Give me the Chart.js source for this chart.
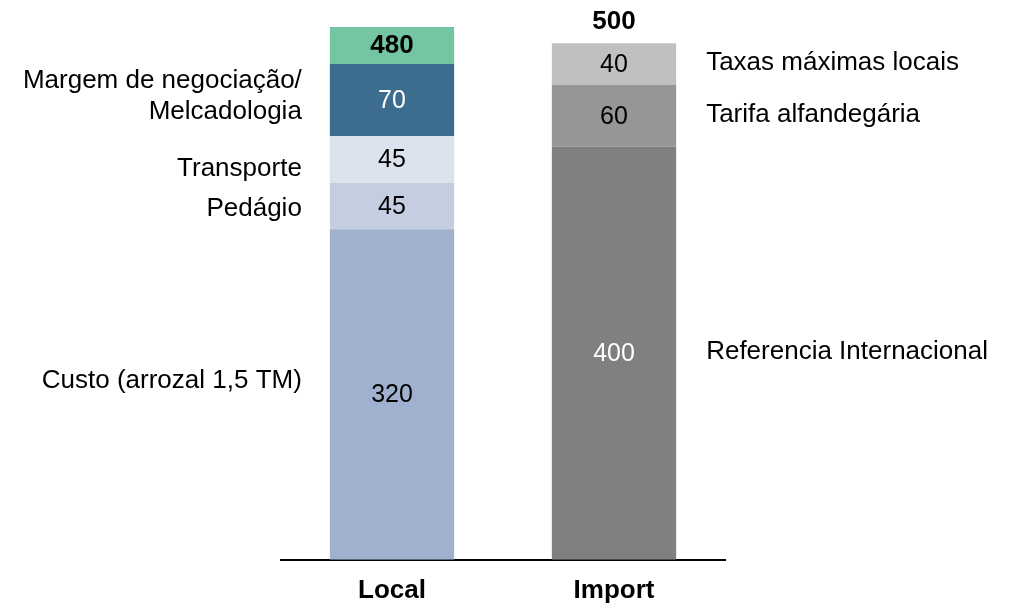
<!DOCTYPE html>
<html>
<head>
<meta charset="utf-8">
<script src="https://cdn.jsdelivr.net/npm/chart.js@4/dist/chart.umd.min.js"></script>
<style>
  html, body { margin: 0; padding: 0; background: #ffffff; }
  #wrap { width: 1012px; height: 606px; }
</style>
</head>
<body>
<div id="wrap"><canvas id="c" width="1012" height="606"></canvas></div>
<script>
// Price build-up of rice: local production vs. import
const categories = ['Local', 'Import'];

// Stack layers, bottom to top
const layer1 = [320, 400];   // Custo / Referencia Internacional
const layer2 = [45, 60];     // Pedágio / Tarifa alfandegária
const layer3 = [45, 40];     // Transporte / Taxas máximas locais
const layer4 = [70, null];   // Margem de negociação

const localLabels = ['Custo (arrozal 1,5 TM)', 'Pedágio', 'Transporte', ['Margem de negociação/', 'Melcadologia']];
const importLabels = ['Referencia Internacional', 'Tarifa alfandegária', 'Taxas máximas locais', null];

// Styling
const FONT = '"Liberation Sans", Arial, Helvetica, sans-serif';
const layerColors = [
  ['#9fb1cf', '#808080'],
  ['#c5cee0', '#969696'],
  ['#dde3ee', '#c0c0c0'],
  ['#3c6d8f', '#ffffff']
];
const valueColors = [
  ['#000000', '#ffffff'],
  ['#000000', '#000000'],
  ['#000000', '#000000'],
  ['#ffffff', '#000000']
];
const localLabelDy = [-14, 3, 9, -4];
const totalBoxColor = '#73c6a1';

const layers = [layer1, layer2, layer3, layer4];

const datasets = layers.map((vals, i) => ({
  data: vals,
  backgroundColor: layerColors[i],
  borderWidth: 0,
  barPercentage: 0.56,
  categoryPercentage: 1.0,
  stack: 's'
}));

const annotate = {
  id: 'annotate',
  afterDatasetsDraw(chart) {
    const ctx = chart.ctx;
    ctx.save();
    // segment values
    ctx.textAlign = 'center';
    ctx.textBaseline = 'middle';
    ctx.font = '25px ' + FONT;
    chart.data.datasets.forEach((ds, di) => {
      const meta = chart.getDatasetMeta(di);
      meta.data.forEach((bar, bi) => {
        const v = ds.data[bi];
        if (v === null || v === undefined) return;
        ctx.fillStyle = valueColors[di][bi];
        ctx.fillText(String(v), bar.x, (bar.y + bar.base) / 2 + 1);
      });
    });

    // side labels
    ctx.font = '26px ' + FONT;
    ctx.fillStyle = '#000000';
    const lineH = 31;
    [localLabels, importLabels].forEach((labels, bi) => {
      labels.forEach((lab, di) => {
        if (!lab) return;
        const bar = chart.getDatasetMeta(di).data[bi];
        const half = bar.width / 2;
        const cy = (bar.y + bar.base) / 2 + (bi === 0 ? localLabelDy[di] : -1);
        const lines = Array.isArray(lab) ? lab : [lab];
        ctx.textAlign = bi === 0 ? 'right' : 'left';
        const x = bi === 0 ? bar.x - half - 28 : bar.x + half + 30;
        lines.forEach((ln, k) => {
          ctx.fillText(ln, x, cy + (k - (lines.length - 1) / 2) * lineH);
        });
      });
    });

    // totals
    ctx.font = 'bold 26px ' + FONT;
    ctx.textAlign = 'center';
    categories.forEach((cat, bi) => {
      let total = 0, topY = Infinity, bar0 = null;
      chart.data.datasets.forEach((ds, di) => {
        const v = ds.data[bi];
        if (v === null || v === undefined) return;
        total += v;
        const b = chart.getDatasetMeta(di).data[bi];
        bar0 = b;
        topY = Math.min(topY, b.y);
      });
      if (bi === 0) {
        const w = bar0.width;
        ctx.fillStyle = totalBoxColor;
        ctx.fillRect(bar0.x - w / 2, topY - 37, w, 37);
        ctx.fillStyle = '#000000';
        ctx.fillText(String(total), bar0.x, topY - 18);
      } else {
        ctx.fillStyle = '#000000';
        ctx.fillText(String(total), bar0.x, topY - 21);
      }
    });
    ctx.restore();
  }
};

new Chart(document.getElementById('c'), {
  type: 'bar',
  data: { labels: categories, datasets },
  options: {
    responsive: false,
    animation: false,
    layout: { padding: { left: 281, right: 287, top: 2, bottom: -15 } },
    plugins: { legend: { display: false }, tooltip: { enabled: false } },
    scales: {
      x: {
        stacked: true,
        grid: { display: false, drawTicks: false },
        border: { display: true, color: '#000000', width: 2 },
        ticks: { color: '#000000', padding: 15, font: { family: FONT, size: 26, weight: 'bold' } }
      },
      y: {
        stacked: true,
        display: false,
        min: 0,
        max: 540
      }
    }
  },
  plugins: [annotate]
});
</script>
</body>
</html>
